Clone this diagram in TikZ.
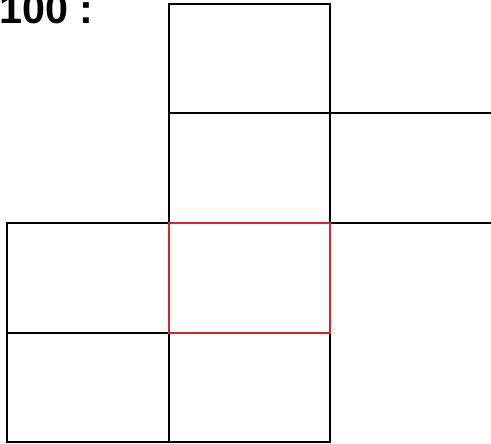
\documentclass[tikz,border=0pt]{standalone}
\usepackage{fontspec}
\setmainfont{Liberation Sans}
\usepackage{xcolor}
\definecolor{markred}{RGB}{220,35,45}

\begin{document}
\begin{tikzpicture}[x=0.75pt, y=-0.75pt,
    cell/.style={draw=black, line width=0.9pt},
    marked/.style={draw=markred, line width=2.2pt}]
  % Frame of the picture
  \useasboundingbox (0,0) rectangle (491,443);
  \begin{scope}
    \clip (0,0) rectangle (491,443);

    % Label
    \node[anchor=base west, inner sep=0pt, font=\bfseries\fontsize{31}{31}\selectfont]
      (label) at (-1,23) {100 :};

    % Middle column
    \draw[cell] (169,4) rectangle (330,113);
    \draw[cell] (169,113) rectangle (330,223);
    \draw[cell] (169,333) rectangle (330,442);

    % Left column
    \draw[cell] (7,223) rectangle (169,333);
    \draw[cell] (7,333) rectangle (169,442);

    % Open lines to the right
    \draw[cell] (330,113) -- (495,113);
    \draw[cell] (330,223) -- (495,223);

    % Highlighted cell
    \draw[marked] (169,223) rectangle (330,333);
  \end{scope}
\end{tikzpicture}
\end{document}
